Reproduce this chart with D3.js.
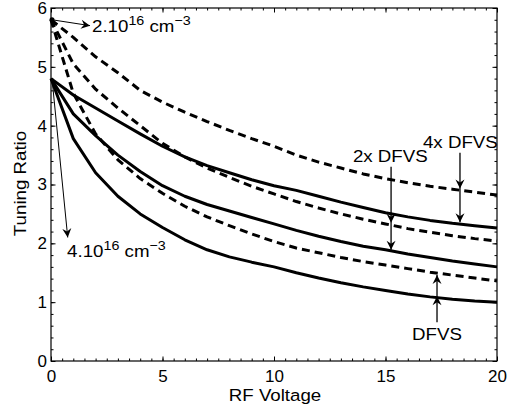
<!DOCTYPE html>
<html><head><meta charset="utf-8">
<script src="https://cdn.jsdelivr.net/npm/d3@7"></script>
<style>body{margin:0;background:#fff}svg{display:block}</style>
</head><body>
<script>
// ---- data ----
const voltage   = [0,1,2,3,4,5,6,7,8,9,10,11,12,13,14,15,16,17,18,19,20];
const solidLow  = [4.8,3.78,3.2,2.8,2.5,2.27,2.06,1.89,1.77,1.68,1.6,1.5,1.41,1.33,1.26,1.2,1.14,1.09,1.05,1.02,1.0];
const solidMid  = [4.8,4.2,3.83,3.5,3.22,2.98,2.8,2.66,2.55,2.44,2.33,2.22,2.12,2.03,1.95,1.89,1.82,1.76,1.7,1.65,1.6];
const solidHigh = [4.8,4.52,4.3,4.08,3.86,3.65,3.47,3.32,3.2,3.08,2.98,2.9,2.8,2.7,2.61,2.52,2.45,2.39,2.34,2.3,2.26];
const dashLow   = [5.8,4.55,3.86,3.42,3.1,2.85,2.63,2.45,2.3,2.16,2.03,1.92,1.84,1.76,1.69,1.63,1.57,1.51,1.46,1.41,1.36];
const dashMid   = [5.8,5.05,4.62,4.3,4.0,3.7,3.47,3.28,3.12,2.97,2.84,2.71,2.6,2.5,2.41,2.33,2.25,2.19,2.13,2.08,2.04];
const dashHigh  = [5.8,5.5,5.17,4.9,4.6,4.4,4.23,4.07,3.92,3.78,3.65,3.5,3.38,3.28,3.18,3.1,3.03,2.97,2.92,2.87,2.82];
const xTicks = [0,5,10,15,20];
const yTicks = [0,1,2,3,4,5,6];
const xLabel = "RF Voltage";
const yLabel = "Tuning Ratio";

const W = 507, H = 411;
const m = {left:51, right:10, top:8, bottom:50};
const x = d3.scaleLinear().domain([0,20]).range([m.left, W - m.right]);
const y = d3.scaleLinear().domain([0,6]).range([H - m.bottom, m.top]);

const svg = d3.select("body").append("svg").attr("width", W).attr("height", H)
  .style("font-family", "'Liberation Sans', Arial, Helvetica, sans-serif");

const FS = 17;
const xMinor = d3.range(0, 20.001, 0.5);
const yMinor = d3.range(0, 6.001, 0.2);

function clean(g){ g.select(".domain").remove(); g.selectAll("line").attr("stroke","#000").attr("stroke-width",1); }

// minor ticks
svg.append("g").attr("transform",`translate(0,${y(0)})`).call(d3.axisBottom(x).tickValues(xMinor).tickSize(-2.5).tickFormat("")).call(clean);
svg.append("g").attr("transform",`translate(0,${y(6)})`).call(d3.axisTop(x).tickValues(xMinor).tickSize(-2.5).tickFormat("")).call(clean);
svg.append("g").attr("transform",`translate(${x(0)},0)`).call(d3.axisLeft(y).tickValues(yMinor).tickSize(-2.5).tickFormat("")).call(clean);
svg.append("g").attr("transform",`translate(${x(20)},0)`).call(d3.axisRight(y).tickValues(yMinor).tickSize(-2.5).tickFormat("")).call(clean);
// major ticks
const gx = svg.append("g").attr("transform",`translate(0,${y(0)})`).call(d3.axisBottom(x).tickValues(xTicks).tickSize(-4.5).tickPadding(9).tickFormat(d3.format("d"))).call(clean);
svg.append("g").attr("transform",`translate(0,${y(6)})`).call(d3.axisTop(x).tickValues(xTicks).tickSize(-4.5).tickFormat("")).call(clean);
const gy = svg.append("g").attr("transform",`translate(${x(0)},0)`).call(d3.axisLeft(y).tickValues(yTicks).tickSize(-4.5).tickPadding(4).tickFormat(d3.format("d"))).call(clean);
svg.append("g").attr("transform",`translate(${x(20)},0)`).call(d3.axisRight(y).tickValues(yTicks).tickSize(-4.5).tickFormat("")).call(clean);
[gx, gy].forEach(g => g.selectAll("text").attr("font-size", FS).attr("fill","#000").attr("font-family","'Liberation Sans', Arial, sans-serif"));

// frame
svg.append("rect").attr("x", x(0)).attr("y", y(6)).attr("width", x(20)-x(0)).attr("height", y(0)-y(6))
  .attr("fill","none").attr("stroke","#000").attr("stroke-width",1.2);

// curves
const line = d3.line().x((d,i)=>x(voltage[i])).y(d=>y(d));
const series = [
  {v: dashHigh, dash: true}, {v: dashMid, dash: true}, {v: dashLow, dash: true},
  {v: solidHigh, dash: false}, {v: solidMid, dash: false}, {v: solidLow, dash: false}
];
svg.append("g").selectAll("path").data(series).join("path")
  .attr("d", d => line(d.v)).attr("fill","none").attr("stroke","#000").attr("stroke-width",3)
  .attr("stroke-linejoin","round")
  .attr("stroke-dasharray", d => d.dash ? "8,5" : null);

// arrows
function head(tx, ty, ang, len=9, w=4.5, notch=3){
  const c = Math.cos(ang), s = Math.sin(ang);
  const bx = tx - len*c, by = ty - len*s;
  const nx = tx - (len-notch)*c, ny = ty - (len-notch)*s;
  const p = [[tx,ty],[bx - w*s, by + w*c],[nx,ny],[bx + w*s, by - w*c]];
  svg.append("path").attr("d","M"+p.map(q=>q.join(",")).join("L")+"Z").attr("fill","#000");
}
function arrow(x1,y1,x2,y2,sw){
  svg.append("line").attr("x1",x1).attr("y1",y1).attr("x2",x2).attr("y2",y2).attr("stroke","#000").attr("stroke-width",sw);
}
// 2.10^16 arrow
arrow(x(0)+1, y(5.8), x(1.75), y(5.7), 1);
head(x(1.75), y(5.7), Math.atan2(y(5.7)-y(5.8), x(1.75)-x(0)));
svg.append("circle").attr("cx", x(0)+1).attr("cy", y(5.8)).attr("r", 2.5).attr("fill","#000");
// 4.10^16 arrow
arrow(x(0)+1, y(4.8), x(0.75), y(2.1), 1);
head(x(0.75), y(2.1), Math.atan2(y(2.1)-y(4.8), x(0.75)-x(0)-1));
// 2x DFVS
arrow(x(15.25), y(3.3), x(15.25), y(1.89), 1.3);
head(x(15.25), y(2.35), Math.PI/2); head(x(15.25), y(1.89), Math.PI/2);
// 4x DFVS
arrow(x(18.34), y(3.54), x(18.34), y(2.36), 1.3);
head(x(18.34), y(2.93), Math.PI/2); head(x(18.34), y(2.36), Math.PI/2);
// DFVS
arrow(x(17.31), y(0.66), x(17.31), y(1.46), 1.3);
head(x(17.31), y(1.46), -Math.PI/2); head(x(17.31), y(1.1), -Math.PI/2);

// text helper
function label(px, py, parts, anchor="start", rot=0){
  const t = svg.append("text").attr("transform",`translate(${px},${py}) rotate(${rot}) scale(1.1,1)`)
    .attr("font-size", FS).attr("text-anchor", anchor).attr("fill","#000");
  parts.forEach(p => {
    const ts = t.append("tspan").text(p.t);
    if (p.sup) ts.attr("font-size", 13).attr("dy", p.dy);
    else if (p.dy) ts.attr("dy", p.dy);
  });
  return t;
}
label(x(1.84), y(5.595), [{t:"2.10"},{t:"16",sup:1,dy:-7},{t:" cm",dy:7},{t:"\u22123",sup:1,dy:-7}]);
label(x(0.72), y(1.77), [{t:"4.10"},{t:"16",sup:1,dy:-7},{t:" cm",dy:7},{t:"\u22123",sup:1,dy:-7}]);
label(x(13.54), y(3.38), [{t:"2x DFVS"}]);
label(x(16.68), y(3.62), [{t:"4x DFVS"}]);
label(x(16.19), y(0.357), [{t:"DFVS"}]);
label((x(0)+x(20))/2+1, 401, [{t:xLabel}], "middle");
label(26, 183.5, [{t:yLabel}], "middle", -90);
</script>
</body></html>
